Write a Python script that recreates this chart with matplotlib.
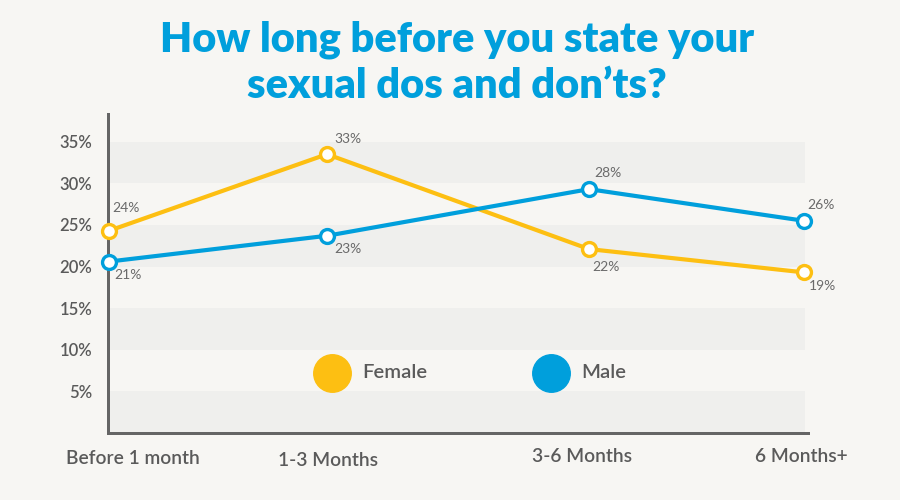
import matplotlib
matplotlib.use("Agg")
import matplotlib.pyplot as plt
from matplotlib.lines import Line2D

# ---- data ----
categories = ["Before 1 month", "1-3 Months", "3-6 Months", "6 Months+"]
female = [24.3, 33.5, 22.1, 19.3]
male = [20.6, 23.7, 29.3, 25.5]
female_labels = ["24%", "33%", "22%", "19%"]
male_labels = ["21%", "23%", "28%", "26%"]
yticks = [5, 10, 15, 20, 25, 30, 35]
ytick_labels = ["5%", "10%", "15%", "20%", "25%", "30%", "35%"]
title = "How long before you state your\nsexual dos and don\u2019ts?"

# ---- layout / style ----
x_pos = [0.0, 0.3137, 0.6906, 1.0]
female_off = [(17, 23), (21, 15), (17, -18), (19, -14)]  # px
male_off = [(19, -13), (21, -13), (19, 16), (17, 16)]
xlabel_off = [(24, -25), (1, -27), (-7, -24), (-3, -24)]
BG = "#f7f6f3"
BAND = "#efefed"
YELLOW = "#fdbf12"
BLUE = "#009fdc"
AXIS = "#656565"
TEXT = "#5a5a5a"
PX = 0.72

plt.rcParams['font.family'] = ['Lato', 'DejaVu Sans']

fig = plt.figure(figsize=(9, 5), dpi=100, facecolor=BG)
ax = fig.add_axes([107.7 / 900, 1 - 433 / 500, (808 - 107.7) / 900, (433 - 114) / 500])
ax.set_facecolor(BG)
ax.set_xlim(-0.0019, 1.0058)
ax.set_ylim(0, 38.33)

for lo in (0, 10, 20, 30):
    ax.axhspan(lo, lo + 5, xmin=0, xmax=0.996, color=BAND, zorder=0, lw=0)

for s in ("top", "right"):
    ax.spines[s].set_visible(False)
for s in ("left", "bottom"):
    ax.spines[s].set_color(AXIS)
    ax.spines[s].set_linewidth(3 * PX)
    ax.spines[s].set_zorder(1)

ax.set_yticks(yticks)
ax.set_yticklabels(ytick_labels, fontsize=12, color=TEXT, fontweight='semibold')
ax.tick_params(axis='y', length=0, pad=11)
ax.set_xticks([])

for i, lab in enumerate(categories):
    ax.annotate(lab, xy=(x_pos[i], 0), xycoords=('data', 'axes fraction'),
                xytext=(xlabel_off[i][0] * PX, xlabel_off[i][1] * PX), textcoords='offset points',
                ha='center', va='center', fontsize=13.8, color=TEXT, fontweight='semibold')

ax.plot(x_pos, female, color=YELLOW, lw=3.0, marker='o', ms=10, mfc='white', mec=YELLOW,
        mew=2.4, zorder=3, clip_on=False)
ax.plot(x_pos, male, color=BLUE, lw=3.0, marker='o', ms=10, mfc='white', mec=BLUE,
        mew=2.4, zorder=3, clip_on=False)

for vals, labs, offs in ((female, female_labels, female_off), (male, male_labels, male_off)):
    for x, v, lab, (dx, dy) in zip(x_pos, vals, labs, offs):
        ax.annotate(lab, xy=(x, v), xytext=(dx * PX, dy * PX), textcoords='offset points',
                    ha='center', va='center', fontsize=10, color="#6a6a6a")

# legend
for (cx, cy), col, name in (((332, 373), YELLOW, "Female"), ((551, 373), BLUE, "Male")):
    fig.add_artist(Line2D([cx / 900], [1 - cy / 500], marker='o', ms=27, color=col,
                          mec=col, transform=fig.transFigure, ls=''))
    fig.text((cx + 30) / 900, 1 - cy / 500, name, ha='left', va='center', fontsize=14.5,
             color=TEXT, fontweight='semibold')

fig.text(0.508, 1 - 63 / 500, title, ha='center', va='center', fontsize=30,
         color=BLUE, fontweight='heavy', linespacing=1.25)

fig.savefig("out.png", dpi=100, facecolor=BG)
